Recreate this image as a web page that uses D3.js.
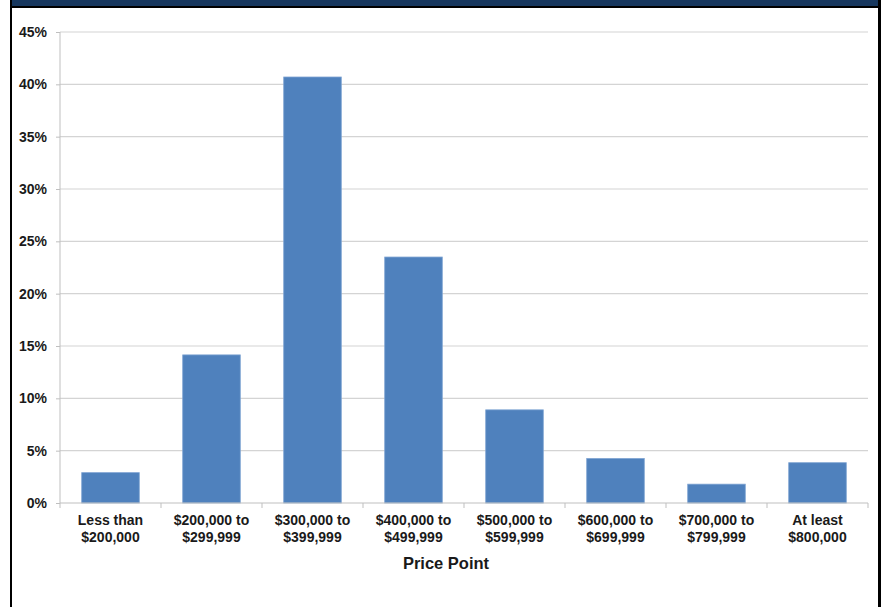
<!DOCTYPE html>
<html lang="en">
    <head>
        <meta charset="utf-8">
        <title>Price Point Bar Chart</title>
        <script src="https://d3js.org/d3.v7.min.js"></script>
        <style type="text/css">
            body {
                margin: 0;
                background: white;
            }
            .axis text {
                font-family: "Liberation Sans", Arial, sans-serif;
                font-size: 14px;
                font-weight: bold;
                fill: #1a1a1a;
            }
            .grid line {
                stroke: #d4d4d4;
                stroke-width: 1.2px;
            }
        </style>
    </head>
    <body>
        <script type="text/javascript">
            const w = 881;
            const h = 607;

            // chart data
            const categories = [
                ["Less than", "$200,000"],
                ["$200,000 to", "$299,999"],
                ["$300,000 to", "$399,999"],
                ["$400,000 to", "$499,999"],
                ["$500,000 to", "$599,999"],
                ["$600,000 to", "$699,999"],
                ["$700,000 to", "$799,999"],
                ["At least", "$800,000"]
            ];
            const shares = [2.9, 14.15, 40.7, 23.5, 8.9, 4.25, 1.8, 3.85];
            const yTicks = [0, 5, 10, 15, 20, 25, 30, 35, 40, 45];
            const xTitle = "Price Point";

            const plotLeft = 60, plotRight = 868, plotTop = 32, plotBottom = 503;

            const svg = d3.select("body").append("svg")
                          .attr("width", w)
                          .attr("height", h);

            // frame: navy band on top, black borders
            svg.append("rect").attr("x", 0).attr("y", 0).attr("width", w).attr("height", h).attr("fill", "white");
            svg.append("rect").attr("x", 10).attr("y", 0).attr("width", w - 10).attr("height", 7).attr("fill", "#17375e");
            svg.append("rect").attr("x", 10).attr("y", 6).attr("width", w - 10).attr("height", 2).attr("fill", "#000");
            svg.append("rect").attr("x", 10).attr("y", 0).attr("width", 2).attr("height", h).attr("fill", "#000");
            svg.append("rect").attr("x", 878).attr("y", 0).attr("width", 3).attr("height", h).attr("fill", "#000");

            const xScale = d3.scaleBand()
                             .domain(d3.range(categories.length))
                             .range([plotLeft, plotRight])
                             .paddingInner(0.43)
                             .paddingOuter(0.215);

            const yScale = d3.scaleLinear()
                             .domain([0, 45])
                             .range([plotBottom, plotTop]);

            // gridlines
            svg.append("g")
               .attr("class", "grid")
               .selectAll("line")
               .data(yTicks.filter(d => d > 0))
               .join("line")
               .attr("x1", plotLeft)
               .attr("x2", plotRight)
               .attr("y1", d => yScale(d))
               .attr("y2", d => yScale(d));

            // left axis
            const leftAxis = d3.axisLeft(yScale)
                               .tickValues(yTicks)
                               .tickFormat(d => d + "%")
                               .tickSize(4)
                               .tickPadding(9);
            const yAxis = svg.append("g")
               .attr("class", "axis")
               .attr("transform", `translate(${plotLeft}, 0)`)
               .call(leftAxis);
            yAxis.selectAll("path, line").attr("stroke", "#bfbfbf");
            yAxis.select(".domain").attr("d", `M0,${plotBottom}V${plotTop}`);

            // bars
            svg.selectAll(".bar")
               .data(shares)
               .join("rect")
               .attr("class", "bar")
               .attr("x", (d, i) => xScale(i))
               .attr("y", d => yScale(d))
               .attr("width", xScale.bandwidth())
               .attr("height", d => plotBottom - yScale(d))
               .attr("fill", "#4f81bd")
               .attr("stroke", "#7ea3d2")
               .attr("stroke-width", 0.8);

            // bottom axis line and boundary ticks
            const boundaries = d3.range(categories.length + 1)
                                 .map(i => plotLeft + i * (plotRight - plotLeft) / categories.length);
            svg.append("line")
               .attr("x1", plotLeft).attr("x2", plotRight)
               .attr("y1", plotBottom).attr("y2", plotBottom)
               .attr("stroke", "#bfbfbf").attr("stroke-width", 1.2);
            svg.append("g")
               .selectAll("line")
               .data(boundaries)
               .join("line")
               .attr("x1", d => d).attr("x2", d => d)
               .attr("y1", plotBottom).attr("y2", plotBottom + 5)
               .attr("stroke", "#bfbfbf");

            // category labels
            const labels = svg.append("g").attr("class", "axis")
               .selectAll("text")
               .data(categories)
               .join("text")
               .attr("x", (d, i) => xScale(i) + xScale.bandwidth() / 2)
               .attr("y", 525)
               .attr("text-anchor", "middle");
            labels.append("tspan")
                  .attr("x", (d, i) => xScale(i) + xScale.bandwidth() / 2)
                  .text(d => d[0]);
            labels.append("tspan")
                  .attr("x", (d, i) => xScale(i) + xScale.bandwidth() / 2)
                  .attr("dy", 16.5)
                  .text(d => d[1]);

            // axis title
            svg.append("text")
               .attr("x", 446)
               .attr("y", 569)
               .attr("text-anchor", "middle")
               .attr("font-family", "Liberation Sans, Arial, sans-serif")
               .attr("font-size", "16.5px")
               .attr("font-weight", "bold")
               .attr("fill", "#1a1a1a")
               .text(xTitle);
        </script>
    </body>
</html>
